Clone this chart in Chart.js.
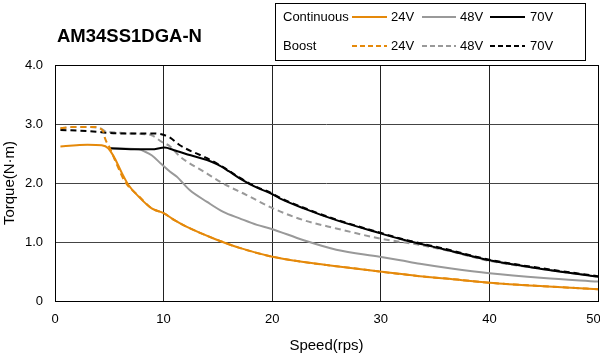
<!DOCTYPE html>
<html>
<head>
<meta charset="utf-8">
<script src="https://cdn.jsdelivr.net/npm/chart.js@4.4.0/dist/chart.umd.min.js"></script>
<style>
  html, body { margin: 0; padding: 0; background: #fff; }
  #wrap { position: relative; width: 600px; height: 356px; }
</style>
</head>
<body>
<div id="wrap"><canvas id="c" width="600" height="356"></canvas></div>
<script>
// ---- Data (speed in rps, torque in N·m) ----
const xTicks = [0, 10, 20, 30, 40, 50];
const xTickLabels = ["0", "10", "20", "30", "40", "50"];
const yTicks = [0, 1, 2, 3, 4];
const yTickLabels = ["0", "1.0", "2.0", "3.0", "4.0"];

const cont24Speed  = [0.5, 2, 3, 4.3, 4.9, 5.5, 6.1, 6.75, 7.7, 8.9, 10, 11, 12.1, 14.6, 17, 19.8, 22.9, 25.9, 29.9, 33.6, 36, 40, 45, 50];
const cont24Torque = [2.62, 2.64, 2.65, 2.64, 2.59, 2.42, 2.19, 1.97, 1.77, 1.57, 1.49, 1.37, 1.26, 1.06, 0.9, 0.76, 0.66, 0.59, 0.5, 0.42, 0.38, 0.31, 0.25, 0.2];

const boost24Speed  = [0.5, 1.8, 3.7, 4.2, 4.45, 4.6, 5.06, 5.7, 6.45, 7.7, 8.9, 10, 11, 12.1, 14.6, 17, 19.8, 22.9, 25.9, 29.9, 33.6, 36, 40, 45, 50];
const boost24Torque = [2.93, 2.95, 2.95, 2.92, 2.87, 2.76, 2.59, 2.31, 2.02, 1.78, 1.57, 1.49, 1.37, 1.26, 1.06, 0.9, 0.76, 0.66, 0.59, 0.5, 0.42, 0.38, 0.31, 0.25, 0.2];

const cont48Speed  = [5.06, 7.7, 8.3, 8.9, 9.8, 10.6, 11.2, 12.4, 14, 15.5, 17, 18.6, 19.8, 22.9, 25.9, 29.9, 31.8, 33.6, 36.5, 40, 45, 50];
const cont48Torque = [2.59, 2.57, 2.53, 2.47, 2.32, 2.19, 2.11, 1.88, 1.68, 1.51, 1.4, 1.29, 1.23, 1.03, 0.87, 0.75, 0.69, 0.63, 0.55, 0.47, 0.39, 0.33];

const boost48Speed  = [0.5, 1.8, 4.0, 4.6, 6, 8, 8.9, 9.8, 10.6, 11.5, 14, 15.5, 17.6, 20.2, 22.9, 25.9, 29.9, 33.6, 36, 40, 45, 50];
const boost48Torque = [2.93, 2.95, 2.94, 2.88, 2.85, 2.83, 2.81, 2.7, 2.62, 2.45, 2.16, 1.99, 1.8, 1.56, 1.37, 1.23, 1.06, 0.95, 0.86, 0.68, 0.54, 0.41];

const cont70Speed  = [5.06, 7.7, 8.9, 10.1, 10.9, 12.5, 14, 15, 16, 17, 18.6, 19.8, 20.7, 22.9, 25.9, 29.9, 31.8, 33.6, 36, 40, 45, 50];
const cont70Torque = [2.59, 2.57, 2.57, 2.6, 2.56, 2.47, 2.39, 2.31, 2.2, 2.08, 1.92, 1.83, 1.74, 1.57, 1.37, 1.15, 1.05, 0.97, 0.87, 0.69, 0.54, 0.41];

const boost70Speed  = [0.5, 3.07, 6.1, 9.2, 10.1, 10.6, 11.5, 14, 15, 16, 17, 18.6, 19.8, 20.7, 22.9, 25.9, 29.9, 31.8, 33.6, 36, 40, 45, 50];
const boost70Torque = [2.9, 2.88, 2.84, 2.84, 2.81, 2.77, 2.64, 2.42, 2.32, 2.21, 2.09, 1.93, 1.84, 1.75, 1.58, 1.38, 1.16, 1.06, 0.98, 0.88, 0.7, 0.55, 0.42];

const titleText = "AM34SS1DGA-N";
const colors = { v24: "#E5890A", v48: "#999999", v70: "#000000" };

function pts(xs, ys) { return xs.map((x, i) => ({ x: x, y: ys[i] })); }

function ds(label, xs, ys, color, dashed) {
  return {
    label: label,
    data: pts(xs, ys),
    borderColor: color,
    backgroundColor: color,
    borderWidth: 2,
    borderDash: dashed ? [6, 4] : [],
    pointRadius: 0,
    cubicInterpolationMode: 'monotone',
    showLine: true,
    fill: false
  };
}

const datasets = [
  ds("24V", cont24Speed, cont24Torque, colors.v24, false),
  ds("24V boost", boost24Speed, boost24Torque, colors.v24, true),
  ds("70V boost", boost70Speed, boost70Torque, colors.v70, true),
  ds("70V", cont70Speed, cont70Torque, colors.v70, false),
  ds("48V boost", boost48Speed, boost48Torque, colors.v48, true),
  ds("48V", cont48Speed, cont48Torque, colors.v48, false)
];

const FONT = "'Liberation Sans', Arial, sans-serif";

const overlay = {
  id: 'overlay',
  afterDraw(chart) {
    const ctx = chart.ctx;
    ctx.save();
    // Title
    ctx.fillStyle = '#000';
    ctx.font = "bold 18.5px " + FONT;
    ctx.textBaseline = 'middle';
    ctx.textAlign = 'left';
    ctx.fillText(titleText, 57, 37);
    // Legend box
    ctx.strokeStyle = '#000';
    ctx.lineWidth = 1;
    ctx.strokeRect(275.5, 3.5, 310, 57);
    ctx.font = "13px " + FONT;
    ctx.fillStyle = '#000';
    const rows = [{ y: 17, label: "Continuous", dash: [] }, { y: 46, label: "Boost", dash: [5, 3] }];
    const items = [
      { x1: 352, x2: 387, tx: 391, c: colors.v24, t: "24V" },
      { x1: 422, x2: 456, tx: 460, c: colors.v48, t: "48V" },
      { x1: 490, x2: 525, tx: 530, c: colors.v70, t: "70V" }
    ];
    rows.forEach(r => {
      ctx.setLineDash([]);
      ctx.fillText(r.label, 283, r.y);
      items.forEach(it => {
        ctx.beginPath();
        ctx.setLineDash(r.dash);
        ctx.strokeStyle = it.c;
        ctx.lineWidth = 2;
        ctx.moveTo(it.x1, r.y);
        ctx.lineTo(it.x2, r.y);
        ctx.stroke();
        ctx.setLineDash([]);
        ctx.fillText(it.t, it.tx, r.y);
      });
    });
    // plot border
    const a = chart.chartArea;
    ctx.strokeStyle = '#000';
    ctx.lineWidth = 1;
    ctx.strokeRect(Math.round(a.left) + 0.5, Math.round(a.top) + 0.5, Math.round(a.right - a.left), Math.round(a.bottom - a.top));
    ctx.restore();
  }
};

new Chart(document.getElementById('c'), {
  type: 'scatter',
  data: { datasets: datasets },
  plugins: [overlay],
  options: {
    responsive: false,
    animation: false,
    devicePixelRatio: 1,
    layout: { padding: { top: 65, right: 2, left: 0, bottom: 0 } },
    plugins: { legend: { display: false }, tooltip: { enabled: false } },
    scales: {
      x: {
        type: 'linear',
        min: 0, max: 50,
        afterBuildTicks(axis) { axis.ticks = xTicks.map(v => ({ value: v })); },
        afterFit(axis) { axis.height = 55; axis.paddingLeft = 0; axis.paddingRight = 0; },
        grid: { color: '#222', lineWidth: 1, drawTicks: false },
        border: { display: false },
        ticks: {
          color: '#000', font: { family: FONT, size: 13 }, padding: 11, maxRotation: 0,
          callback: (v) => {
            const i = xTicks.indexOf(v);
            if (i < 0) return '';
            // keep the last label inside the canvas like the reference
            return i === xTicks.length - 1 ? xTickLabels[i] + '\u2002\u2009' : xTickLabels[i];
          }
        },
        title: { display: true, text: 'Speed(rps)', color: '#000', font: { family: FONT, size: 15 }, padding: { top: 0, bottom: 1 } }
      },
      y: {
        type: 'linear',
        min: 0, max: 4,
        afterBuildTicks(axis) { axis.ticks = yTicks.map(v => ({ value: v })); },
        afterFit(axis) { axis.width = 55; axis.paddingTop = 0; axis.paddingBottom = 0; },
        grid: { color: '#444', lineWidth: 1, drawTicks: false },
        border: { display: false },
        ticks: {
          color: '#000', font: { family: FONT, size: 13 }, padding: 12,
          callback: (v) => { const i = yTicks.indexOf(v); return i >= 0 ? yTickLabels[i] : ''; }
        },
        title: { display: true, text: 'Torque(N·m)', color: '#000', font: { family: FONT, size: 15 }, padding: { top: 1, bottom: 0 } }
      }
    }
  }
});
</script>
</body>
</html>
